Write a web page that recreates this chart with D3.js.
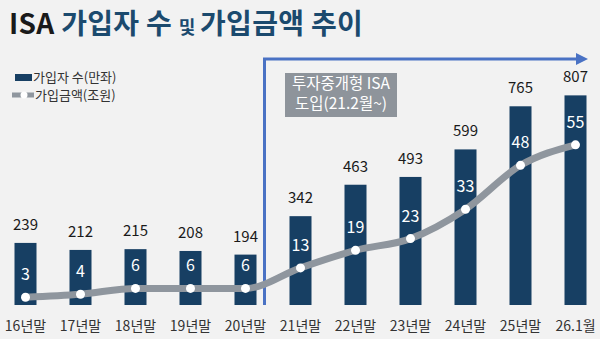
<!DOCTYPE html>
<html><head><meta charset="utf-8">
<script src="https://cdn.jsdelivr.net/npm/d3@7"></script>
<style>html,body{margin:0;padding:0;background:#f2f2f2;}svg{display:block;}</style>
</head><body>
<svg id="c" width="600" height="339"></svg>
<script>
const categories = ["16년말","17년말","18년말","19년말","20년말","21년말","22년말","23년말","24년말","25년말","26.1월"];
const subscribers = [239,212,215,208,194,342,463,493,599,765,807];
const amounts = [3,4,6,6,6,13,19,23,33,48,55];
const titleParts = [["ISA ","#1a1a1a",28],["가입자 수 ","#1b4a6e",28],["및 ","#1b4a6e",18],["가입금액 추이","#1b4a6e",28]];
const legendLabels = ["가입자 수(만좌)","가입금액(조원)"];
const noteLines = ["투자중개형 ISA","도입(21.2월~)"];

const font = "'Noto Sans CJK KR','Noto Sans',sans-serif";
const svg = d3.select("#c");
const barColor = "#173f63", lineColor = "#8f969e", blue = "#4a72c4";

const x = d3.scaleBand().domain(categories).range([-2, 603]).paddingInner(0.6).paddingOuter(0.3);
const y = d3.scaleLinear().domain([0, 820]).range([305, 92]);
const y2 = d3.scaleLinear().domain([0, 72]).range([306, 95]);

// title
const t = svg.append("text").attr("x", 9).attr("y", 34).attr("font-family", font).attr("font-weight", 700).attr("letter-spacing", 0.3);
titleParts.forEach(p => t.append("tspan").text(p[0]).attr("fill", p[1]).attr("font-size", p[2]));

// bars
svg.append("g").selectAll("rect").data(subscribers).join("rect")
  .attr("x", (d,i) => x(categories[i])).attr("width", x.bandwidth())
  .attr("y", d => y(d)).attr("height", d => y(0) - y(d)).attr("fill", barColor);

// bar labels
svg.append("g").selectAll("text").data(subscribers).join("text")
  .attr("x", (d,i) => x(categories[i]) + x.bandwidth()/2).attr("y", d => y(d) - 13)
  .attr("text-anchor", "middle").attr("font-family", font).attr("font-size", 15).attr("fill", "#1a1a1a")
  .text(d => d);

// x axis labels
const xAxis = d3.axisBottom(x).tickSize(0).tickPadding(0);
const xg = svg.append("g").attr("transform", "translate(0,320)").call(xAxis);
xg.select(".domain").remove();
xg.selectAll("text").attr("font-family", font).attr("font-size", 14).attr("fill", "#333").attr("dy", "0.75em");

// blue arrow
const arrowX = x(categories[4]) + x.bandwidth() + 8;
svg.append("path").attr("d", `M${arrowX},305 V59 H578`).attr("fill", "none").attr("stroke", blue).attr("stroke-width", 3);
svg.append("path").attr("d", `M576,53 L588,59 L576,65 Z`).attr("fill", blue);

// annotation box
svg.append("rect").attr("x", 285).attr("y", 73).attr("width", 112).attr("height", 44).attr("fill", "#8e949b");
svg.append("g").selectAll("text").data(noteLines).join("text")
  .attr("x", 341).attr("y", (d,i) => 89 + i*20).attr("text-anchor", "middle")
  .attr("font-family", font).attr("font-size", 15.5).attr("fill", "#fff").text(d => d);

// line
const cx = i => x(categories[i]) + x.bandwidth()/2;
const line = d3.line().x((d,i) => cx(i)).y(d => y2(d)).curve(d3.curveMonotoneX);
svg.append("path").datum(amounts).attr("d", line).attr("fill", "none").attr("stroke", lineColor).attr("stroke-width", 7);
svg.append("g").selectAll("circle").data(amounts).join("circle")
  .attr("cx", (d,i) => cx(i)).attr("cy", d => y2(d)).attr("r", 4.5).attr("fill", "#fff");
svg.append("g").selectAll("text").data(amounts).join("text")
  .attr("x", (d,i) => cx(i)).attr("y", d => y2(d) - 17).attr("text-anchor", "middle")
  .attr("font-family", font).attr("font-size", 16).attr("fill", "#fff").text(d => d);

// legend
const lg = svg.append("g").attr("font-family", font).attr("font-size", 13).attr("fill", "#333");
lg.append("rect").attr("x", 15).attr("y", 74).attr("width", 17).attr("height", 7).attr("fill", barColor);
lg.append("text").attr("x", 33).attr("y", 82).text(legendLabels[0]);
lg.append("line").attr("x1", 12).attr("x2", 34).attr("y1", 95).attr("y2", 95).attr("stroke", lineColor).attr("stroke-width", 5);
lg.append("circle").attr("cx", 24).attr("cy", 95).attr("r", 3.5).attr("fill", "#fff");
lg.append("text").attr("x", 35).attr("y", 100).text(legendLabels[1]);
</script>
</body></html>
